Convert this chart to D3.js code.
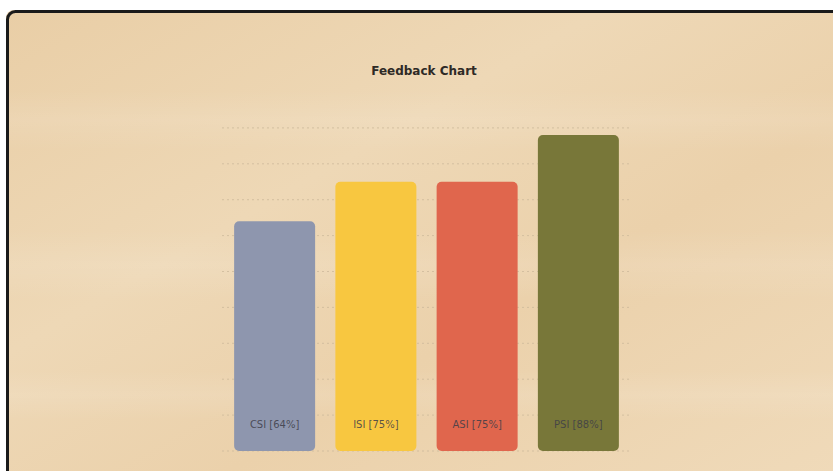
<!DOCTYPE html>
<html>
<head>
<meta charset="utf-8">
<script src="https://cdn.jsdelivr.net/npm/d3@7"></script>
<style>
  body { margin: 0; background: #fff; overflow: hidden; }
</style>
</head>
<body>
<div id="feedback-chart"></div>
<script>
const WIDTH = 833
const HEIGHT = 471

const categories = ['CSI', 'ISI', 'ASI', 'PSI']
const scores = [64, 75, 75, 88]
const colours = ['#8e96ae', '#f8c740', '#e0664d', '#787739']
const gridTicks = [0, 10, 20, 30, 40, 50, 60, 70, 80, 90]

const svg = d3.select('#feedback-chart')
  .append('svg')
    .attr('width', WIDTH)
    .attr('height', HEIGHT)

const defs = svg.append('defs')

// wood-ish background
const wood = defs.append('linearGradient')
  .attr('id', 'wood')
  .attr('x1', 0).attr('y1', 0).attr('x2', 1).attr('y2', 1)
wood.append('stop').attr('offset', '0%').attr('stop-color', '#e9cea6')
wood.append('stop').attr('offset', '35%').attr('stop-color', '#eed8b6')
wood.append('stop').attr('offset', '60%').attr('stop-color', '#ebd1ab')
wood.append('stop').attr('offset', '100%').attr('stop-color', '#f0dbbb')

const streak = defs.append('linearGradient')
  .attr('id', 'streak')
  .attr('x1', 0).attr('y1', 0).attr('x2', 0).attr('y2', 1)
streak.append('stop').attr('offset', '0%').attr('stop-color', '#fff').attr('stop-opacity', 0)
streak.append('stop').attr('offset', '50%').attr('stop-color', '#fff').attr('stop-opacity', 0.1)
streak.append('stop').attr('offset', '100%').attr('stop-color', '#fff').attr('stop-opacity', 0)

svg.append('rect')
    .attr('x', 6)
    .attr('y', 10)
    .attr('width', WIDTH + 20)
    .attr('height', HEIGHT + 20)
    .attr('rx', 8)
    .attr('fill', 'url(#wood)')

const streaks = [[90, 60], [230, 70], [370, 50]]
svg.selectAll('rect.streak')
  .data(streaks)
  .join('rect')
    .attr('class', 'streak')
    .attr('x', 8)
    .attr('y', d => d[0])
    .attr('width', WIDTH)
    .attr('height', d => d[1])
    .attr('fill', 'url(#streak)')

svg.append('rect')
    .attr('x', 7.5)
    .attr('y', 11.5)
    .attr('width', WIDTH + 20)
    .attr('height', HEIGHT + 20)
    .attr('rx', 8)
    .attr('fill', 'none')
    .attr('stroke', '#1a1a1a')
    .attr('stroke-width', 3)

const xScale = d3.scaleBand()
  .domain(categories)
  .range([224, 629])
  .paddingInner(0.2)
  .paddingOuter(0.1)

const yScale = d3.scaleLinear()
  .domain([0, 100])
  .range([451, 92])

const plot = svg.append('g')

plot.selectAll('line.grid')
  .data(gridTicks)
  .join('line')
    .attr('class', 'grid')
    .attr('x1', 222)
    .attr('x2', 631)
    .attr('y1', d => yScale(d))
    .attr('y2', d => yScale(d))
    .attr('stroke', '#cdb99b')
    .attr('stroke-opacity', 0.8)
    .attr('stroke-width', 1)
    .attr('stroke-dasharray', '2,3')

plot.selectAll('rect.bar')
  .data(categories)
  .join('rect')
    .attr('class', 'bar')
    .attr('x', d => xScale(d))
    .attr('y', (d, i) => yScale(scores[i]))
    .attr('width', xScale.bandwidth())
    .attr('height', (d, i) => yScale(0) - yScale(scores[i]))
    .attr('rx', 5)
    .attr('fill', (d, i) => colours[i])

plot.selectAll('text.label')
  .data(categories)
  .join('text')
    .attr('class', 'label')
    .attr('x', d => xScale(d) + xScale.bandwidth() / 2)
    .attr('y', 428)
    .attr('text-anchor', 'middle')
    .attr('font-family', 'DejaVu Sans, Verdana, sans-serif')
    .attr('font-size', 10)
    .attr('fill', '#3d3d48')
    .attr('fill-opacity', 0.85)
    .text((d, i) => `${d} [${scores[i]}%]`)

svg.append('text')
    .attr('x', 424)
    .attr('y', 75)
    .attr('text-anchor', 'middle')
    .attr('font-family', 'DejaVu Sans, Tahoma, sans-serif')
    .attr('font-weight', 'bold')
    .attr('font-size', 12)
    .attr('fill', '#2e2a26')
    .text('Feedback Chart')
</script>
</body>
</html>
